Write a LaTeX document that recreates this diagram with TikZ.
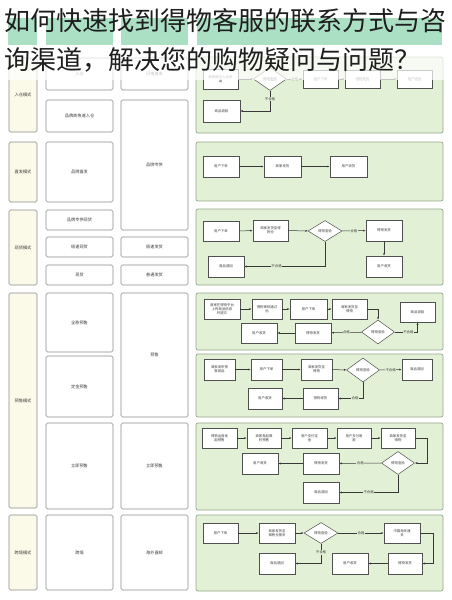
\documentclass[tikz,border=0pt]{standalone}
\usepackage{fontspec}
\setmainfont{Noto Sans CJK SC}
\usetikzlibrary{shapes.geometric,arrows.meta}
\definecolor{hdr}{RGB}{172,224,196}
\definecolor{pnl}{RGB}{226,240,214}
\definecolor{pnlb}{RGB}{150,165,140}
\definecolor{cream}{RGB}{251,249,232}
\definecolor{gb}{RGB}{140,140,140}
\definecolor{fl}{RGB}{80,80,80}
\definecolor{tx}{RGB}{60,60,60}
\definecolor{ttl}{RGB}{30,30,30}
\newcommand{\mkbox}[7]{\node[#1, minimum width={(#5)-(#3)}, minimum height={(#6)-(#4)}] (#2) at ({((#3)+(#5))/2},{((#4)+(#6))/2}) {#7};}
\begin{document}
\begin{tikzpicture}[x=1pt,y=-1pt,
 hdrbox/.style={fill=hdr, draw=none, inner sep=0, outer sep=0},
 modebox/.style={fill=cream, draw=gb, line width=0.6pt, rounded corners=1.5pt, inner sep=0, font=\fontsize{4.2}{5}\selectfont, text=tx},
 catbox/.style={fill=white, draw=gb, line width=0.6pt, rounded corners=1.5pt, inner sep=0, font=\fontsize{4.2}{5}\selectfont, text=tx},
 panel/.style={fill=pnl, draw=pnlb, line width=0.7pt, rounded corners=2pt, inner sep=0},
 fbox/.style={fill=white, draw=fl, line width=0.5pt, inner sep=0, align=center, font=\fontsize{3.4}{4.2}\selectfont, text=tx},
 dia/.style={diamond, fill=white, draw=fl, line width=0.5pt, inner sep=0, minimum width=33, minimum height=23, font=\fontsize{3.4}{4.2}\selectfont, text=tx},
 arr/.style={draw=fl!70!black, line width=0.5pt, -{Latex[length=2.5pt,width=2pt]}},
 lbl/.style={font=\fontsize{3.4}{4.2}\selectfont, text=tx, fill=pnl, inner sep=0.5pt}
]
\useasboundingbox (0,0) rectangle (452,600);
\fill[white] (0,0) rectangle (452,600);
% header
\mkbox{hdrbox}{h1}{8}{18}{37}{45}{}
\mkbox{hdrbox}{h2}{46}{18}{113}{45}{}
\mkbox{hdrbox}{h3}{121}{18}{188}{45}{}
\mkbox{hdrbox}{h4}{197}{18}{442}{45}{}
% row 1
\mkbox{modebox}{m1}{9}{58}{37}{132}{入仓模式}
\mkbox{catbox}{c11}{46}{58}{113}{90}{入仓}
\mkbox{catbox}{c12}{46}{100}{113}{132}{品牌商快速入仓}
\mkbox{catbox}{c13}{121}{58}{188}{90}{闪电直发}
\mkbox{catbox}{c14}{121}{100}{188}{230}{品牌专供}
% row 2
\mkbox{modebox}{m2}{9}{142}{37}{202}{直发模式}
\mkbox{catbox}{c21}{46}{142}{113}{202}{品牌直发}
% row 3
\mkbox{modebox}{m3}{9}{210}{37}{285}{现货模式}
\mkbox{catbox}{c31}{46}{210}{113}{230}{品牌专供现货}
\mkbox{catbox}{c32}{46}{237}{113}{257}{极速现货}
\mkbox{catbox}{c33}{46}{265}{113}{285}{现货}
\mkbox{catbox}{c34}{121}{237}{188}{257}{极速发货}
\mkbox{catbox}{c35}{121}{265}{188}{285}{普通发货}
% row 4
\mkbox{modebox}{m4}{9}{293}{37}{508}{预售模式}
\mkbox{catbox}{c41}{46}{293}{113}{352}{全款预售}
\mkbox{catbox}{c42}{46}{356}{113}{417}{定金预售}
\mkbox{catbox}{c43}{46}{423}{113}{509}{立即预售}
\mkbox{catbox}{c44}{121}{293}{188}{417}{预售}
\mkbox{catbox}{c45}{121}{423}{188}{509}{立即预售}
% row 5
\mkbox{modebox}{m5}{9}{515}{37}{590}{跨境模式}
\mkbox{catbox}{c51}{46}{515}{113}{590}{跨境}
\mkbox{catbox}{c52}{121}{515}{188}{590}{海外直邮}
% panels
\mkbox{panel}{P1}{196}{57}{443}{133}{}
\mkbox{panel}{P2}{196}{142}{443}{201}{}
\mkbox{panel}{P3}{196}{209}{443}{285}{}
\mkbox{panel}{P4}{196}{293}{443}{350}{}
\mkbox{panel}{P5}{196}{354}{443}{417}{}
\mkbox{panel}{P6}{196}{423}{443}{510}{}
\mkbox{panel}{P7}{196}{515}{443}{591}{}
% panel 1
\mkbox{fbox}{p1a}{203}{69}{238}{89}{商家提交入仓申\\请}
\node[dia] (p1q) at (270,79) {得物查验};
\mkbox{fbox}{p1b}{303}{70}{338}{88}{用户下单}
\mkbox{fbox}{p1c}{345}{70}{380}{88}{得物发货}
\mkbox{fbox}{p1e}{397}{70}{432}{88}{用户收货}
\mkbox{fbox}{p1r}{203}{100}{240}{122}{商品退回}
\draw[arr] (p1a) -- (p1q);
\draw[arr] (p1q) -- node[lbl]{合格} (p1b);
\draw[arr] (p1b) -- (p1c);
\draw[arr] (p1c) -- (p1e);
\draw[arr] (p1q.south) |- node[lbl,pos=0.2]{不合格} (p1r.east);
% panel 2
\mkbox{fbox}{p2a}{203}{156}{239}{177}{用户下单}
\mkbox{fbox}{p2b}{264}{156}{301}{177}{商家发货}
\mkbox{fbox}{p2c}{330}{156}{367}{177}{用户收货}
\draw[arr] (p2a) -- (p2b);
\draw[arr] (p2b) -- (p2c);
% panel 3
\mkbox{fbox}{p3a}{203}{221}{239}{241}{用户下单}
\mkbox{fbox}{p3b}{253}{220}{288}{241}{商家发货至得\\物仓}
\node[dia, minimum width=34, minimum height=21] (p3q) at (325,231) {得物查验};
\mkbox{fbox}{p3c}{366}{220}{402}{241}{得物发货}
\mkbox{fbox}{p3e}{366}{256}{402}{277}{用户收货}
\mkbox{fbox}{p3r}{208}{256}{244}{277}{商品退回}
\draw[arr] (p3a) -- (p3b);
\draw[arr] (p3b) -- (p3q);
\draw[arr] (p3q) -- node[lbl]{合格} (p3c);
\draw[arr] (p3c) -- (p3e);
\draw[arr] (p3q.south) |- node[lbl,pos=0.8]{不合格} (p3r.east);
% panel 4
\mkbox{fbox}{p4a}{204}{299}{240}{319}{商家在得物平台\\上传商品信息\\并提交}
\mkbox{fbox}{p4b}{252}{299}{282}{319}{得物审核通过\\后}
\mkbox{fbox}{p4c}{290}{299}{327}{319}{用户下单}
\mkbox{fbox}{p4d}{332}{299}{367}{319}{商家发货至\\得物}
\mkbox{fbox}{p4r}{400}{302}{435}{322}{商品退回}
\node[dia, minimum height=24] (p4q) at (378,332) {得物查验};
\mkbox{fbox}{p4f}{295}{323}{331}{343}{得物发货}
\mkbox{fbox}{p4g}{241}{323}{277}{343}{用户收货}
\draw[arr] (p4a) -- (p4b);
\draw[arr] (p4b) -- (p4c);
\draw[arr] (p4c) -- (p4d);
\draw[arr] (p4d.east) -| (p4q.north);
\draw[arr] (p4q.east) -| node[lbl,pos=0.3]{不合格} (p4r.south);
\draw[arr] (p4q) -- node[lbl]{合格} (p4f);
\draw[arr] (p4f) -- (p4g);
% panel 5
\mkbox{fbox}{p5a}{204}{359}{235}{380}{商家发布预\\售商品}
\mkbox{fbox}{p5b}{251}{359}{282}{380}{用户下单}
\mkbox{fbox}{p5c}{301}{359}{332}{380}{商家发货至\\得物}
\node[dia, minimum height=24] (p5q) at (363,370) {得物查验};
\mkbox{fbox}{p5r}{402}{359}{432}{380}{商品退回}
\mkbox{fbox}{p5f}{303}{388}{338}{409}{得物发货}
\mkbox{fbox}{p5g}{248}{388}{282}{409}{用户收货}
\draw[arr] (p5a) -- (p5b);
\draw[arr] (p5b) -- (p5c);
\draw[arr] (p5c) -- (p5q);
\draw[arr] (p5q) -- node[lbl]{不合格} (p5r);
\draw[arr] (p5q.south) |- node[lbl,pos=0.66]{合格} (p5f.east);
\draw[arr] (p5f) -- (p5g);
% panel 6
\mkbox{fbox}{p6a}{202}{428}{237}{448}{得物运营发\\起预售}
\mkbox{fbox}{p6b}{247}{428}{281}{448}{商家发起限\\时预售}
\mkbox{fbox}{p6c}{292}{428}{327}{448}{用户支付定\\金}
\mkbox{fbox}{p6d}{337}{428}{371}{448}{用户支付尾\\款}
\mkbox{fbox}{p6e}{381}{428}{415}{448}{商家发货至\\得物}
\node[dia] (p6q) at (398,463) {得物查验};
\mkbox{fbox}{p6f}{303}{453}{339}{474}{得物发货}
\mkbox{fbox}{p6g}{242}{453}{278}{474}{用户收货}
\mkbox{fbox}{p6r}{303}{482}{339}{503}{商品退回}
\draw[arr] (p6a) -- (p6b);
\draw[arr] (p6b) -- (p6c);
\draw[arr] (p6c) -- (p6d);
\draw[arr] (p6d) -- (p6e);
\draw[arr] (p6e.east) -- ++(12,0) |- (p6q.east);
\draw[arr] (p6q) -- node[lbl]{合格} (p6f);
\draw[arr] (p6f) -- (p6g);
\draw[arr] (p6q.south) |- node[lbl,pos=0.75]{不合格} (p6r.east);
% panel 7
\mkbox{fbox}{p7a}{203}{523}{238}{543}{用户下单}
\mkbox{fbox}{p7b}{259}{523}{295}{543}{商家发货至\\保税仓报关}
\node[dia, minimum width=34, minimum height=21] (p7q) at (321,533) {得物查验};
\mkbox{fbox}{p7c}{384}{523}{420}{543}{中国海关通\\关}
\mkbox{fbox}{p7f}{388}{553}{422}{574}{得物发货}
\mkbox{fbox}{p7g}{332}{553}{368}{574}{用户收货}
\mkbox{fbox}{p7r}{259}{553}{295}{574}{商品退回}
\draw[arr] (p7a) -- (p7b);
\draw[arr] (p7b) -- (p7q);
\draw[arr] (p7q) -- node[lbl]{合格} (p7c);
\draw[arr] (p7c.east) -- ++(13,0) |- (p7f.east);
\draw[arr] (p7f) -- (p7g);
\draw[arr] (p7q.south) |- node[lbl,pos=0.22]{不合格} (p7r.east);
% title overlay
\fill[white, opacity=0.7] (0,46) rectangle (452,80);
\node[anchor=west, inner sep=0, text=ttl, font=\fontsize{26}{30}\selectfont] (t1) at (4,21) {如何快速找到得物客服的联系方式与咨};
\node[anchor=west, inner sep=0, text=ttl, font=\fontsize{26}{30}\selectfont] (t2) at (4,60) {询渠道，解决您的购物疑问与问题？};
\end{tikzpicture}
\end{document}
